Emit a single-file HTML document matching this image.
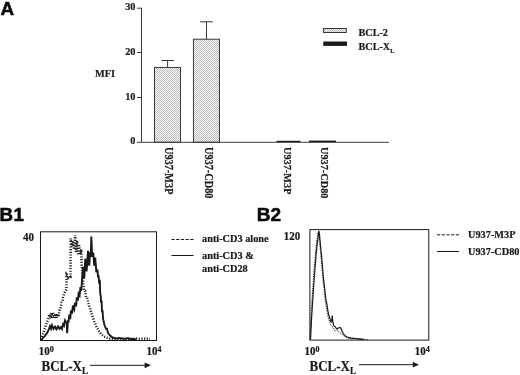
<!DOCTYPE html>
<html lang="en"><head><meta charset="utf-8"><title>Figure</title>
<style>html,body{margin:0;padding:0;background:#fff;}body{width:520px;height:375px;overflow:hidden;}svg{display:block;}</style>
</head><body>
<svg width="520" height="375" viewBox="0 0 520 375">
<defs>
<pattern id="dots" width="2" height="2" patternUnits="userSpaceOnUse">
<rect width="2" height="2" fill="#fafafa"/>
<rect x="0" y="0" width="1" height="1" fill="#bcbcbc"/>
<rect x="1" y="1" width="1" height="1" fill="#bcbcbc"/>
</pattern>
</defs>
<rect width="520" height="375" fill="#fff"/>
<g fill="#0a0a0a" font-family="Liberation Sans, sans-serif" font-weight="bold" font-size="18" stroke="#0a0a0a" stroke-width="0.5" stroke-linejoin="round">
<text transform="translate(0.4 15.2) scale(1.05 1)">A</text>
<text transform="translate(-0.55 220.8) scale(1.04 1)">B<tspan dx="0.5">1</tspan></text>
<text transform="translate(256.8 220.8) scale(1.06 1)">B2</text>
</g>
<!-- Panel A -->
<g stroke="#262626" stroke-width="0.9" fill="none">
<line x1="141.5" y1="7.8" x2="141.5" y2="142.1"/>
<line x1="137" y1="142.3" x2="389" y2="142.3"/>
<line x1="137" y1="8.2" x2="141.5" y2="8.2"/>
<line x1="137" y1="52.5" x2="141.5" y2="52.5"/>
<line x1="137" y1="97.5" x2="141.5" y2="97.5"/>
<rect x="154.5" y="67.4" width="26" height="74.7" fill="url(#dots)"/>
<rect x="193.4" y="39.2" width="26.1" height="102.9" fill="url(#dots)"/>
<line x1="167.6" y1="60.5" x2="167.6" y2="67.4"/>
<line x1="161.5" y1="60.5" x2="174" y2="60.5"/>
<line x1="206.5" y1="21.8" x2="206.5" y2="39.2"/>
<line x1="200" y1="21.8" x2="212.8" y2="21.8"/>
<rect x="276.5" y="140.8" width="24" height="1.3" fill="#1a1a1a" stroke="none"/>
<rect x="309" y="140.6" width="27" height="1.5" fill="#1a1a1a" stroke="none"/>
<rect x="323.5" y="28.5" width="22.8" height="4" fill="url(#dots)"/>
<rect x="323.3" y="41.5" width="23.7" height="4.4" fill="#1a1a1a" stroke="none"/>
</g>
<g fill="#1a1a1a" font-family="Liberation Serif, serif" font-weight="bold" font-size="10.3" stroke="#1a1a1a" stroke-width="0.2">
<text x="135.5" y="10.2" text-anchor="end">30</text>
<text x="135.5" y="54.9" text-anchor="end">20</text>
<text x="135.5" y="99.8" text-anchor="end">10</text>
<text x="135.5" y="144.4" text-anchor="end">0</text>
<text x="95" y="77">MFI</text>
<text x="358.5" y="36.2" font-size="10.2">BCL-2</text>
<text x="358.5" y="50" font-size="10.2">BCL-X<tspan font-size="6.2" dy="3">L</tspan></text>
</g>
<g fill="#1a1a1a" font-family="Liberation Serif, serif" font-weight="bold" font-size="10.3" stroke="#1a1a1a" stroke-width="0.2">
<text transform="translate(164.5 147) rotate(90) scale(1 1.12)">U937-M3P</text>
<text transform="translate(205.3 147) rotate(90) scale(1 1.12)">U937-CD80</text>
<text transform="translate(283.8 147) rotate(90) scale(1 1.1)">U937-M3P</text>
<text transform="translate(321.2 147) rotate(90) scale(1 1.1)">U937-CD80</text>
</g>
<!-- Panel B1 -->
<rect x="40.5" y="231.8" width="116" height="108.7" fill="none" stroke="#1a1a1a" stroke-width="1"/>
<path d="M41.0 339.5 L42.0 337.1 L43.0 333.9 L44.0 330.8 L45.0 328.2 L46.0 324.8 L47.0 322.1 L47.8 320.2 L48.5 317.7 L49.6 314.3 L50.5 318.3 L51.0 315.3 L51.5 312.7 L52.0 315.4 L52.5 317.7 L53.0 315.5 L53.5 312.9 L54.0 315.3 L54.5 317.8 L55.0 316.1 L55.5 313.8 L56.0 315.6 L56.5 317.7 L57.0 315.6 L57.5 313.8 L58.5 316.8 L59.0 313.9 L59.5 310.6 L60.5 309.2 L61.0 306.2 L61.6 302.5 L62.5 301.5 L62.9 298.8 L63.2 296.6 L64.0 294.2 L64.8 292.3 L65.5 291.3 L66.5 289.3 L66.5 286.4 L66.5 283.3 L66.6 280.3 L66.6 277.6 L66.6 274.5 L67.5 275.6 L68.5 277.4 L69.5 276.2 L70.5 276.5 L70.5 273.7 L70.5 270.5 L70.5 268.0 L70.5 264.9 L70.5 261.9 L70.5 259.4 L70.6 256.3 L70.6 253.2 L70.6 250.5 L70.6 247.7 L70.6 244.3 L70.6 242.2 L70.6 238.5 L71.1 242.1 L71.5 242.9 L72.0 246.6 L72.5 242.4 L73.0 240.8 L73.3 243.9 L73.7 246.4 L74.0 249.4 L74.3 245.1 L74.6 241.0 L74.9 238.3 L75.2 235.0 L75.4 237.4 L75.5 242.9 L75.7 245.5 L75.8 248.6 L76.0 251.8 L76.3 249.0 L76.7 245.5 L77.0 240.9 L77.2 243.9 L77.5 246.9 L77.8 250.6 L78.0 255.1 L78.2 251.7 L78.5 249.2 L78.8 246.7 L79.0 244.2 L79.2 246.7 L79.5 247.9 L79.8 251.2 L80.0 254.4 L80.7 252.6 L81.3 249.5 L81.4 252.3 L81.4 255.1 L81.5 258.3 L81.5 261.2 L81.6 263.5 L81.8 266.4 L82.0 268.1 L82.3 271.4 L82.5 274.5 L82.8 277.6 L83.0 280.4 L83.3 284.7 L83.7 287.5 L84.0 290.4 L85.0 290.7 L85.5 293.4 L86.0 297.2 L87.0 297.4 L87.5 299.0 L88.0 301.8 L88.8 304.9 L89.5 307.5 L90.3 309.2 L91.2 312.4 L92.1 315.2 L93.0 317.8 L94.4 322.1 L95.5 324.3 L96.5 327.1 L97.5 328.6 L98.4 329.8 L99.3 331.5 L100.1 332.5 L101.0 333.9 L102.0 334.9 L103.0 335.6 L104.0 336.6 L105.0 336.9 L106.0 337.2 L107.0 337.7 L108.0 337.9 L109.0 338.0 L110.0 338.4 L111.0 338.3 L112.0 338.6 L113.0 338.7 L114.0 338.8 L115.0 338.9 L116.0 338.8 L117.0 338.9 L118.0 338.9 L119.0 338.8 L120.0 339.0 L121.0 338.9 L122.0 338.9 L123.0 339.0 L124.0 338.9 L125.0 339.1 L126.0 339.0 L127.0 338.9 L128.0 339.0 L129.0 338.8 L130.0 338.9 L131.0 338.9 L132.0 338.7 L133.0 338.8 L134.0 338.7 L135.0 338.6 L136.0 338.7 L137.0 338.6 L138.0 338.7 L139.0 338.7 L140.0 338.6 L141.0 338.8 L142.0 338.7 L143.0 338.8 L144.0 338.9 L145.0 338.7 L146.0 338.9 L147.0 338.8 L148.0 338.8 L149.0 339.0 L150.0 338.9" fill="none" stroke="#1a1a1a" stroke-width="2.5" stroke-dasharray="1.1 1.6"/>
<path d="M41.0 339.5 L42.0 339.1 L43.0 337.9 L44.0 336.9 L45.0 335.8 L46.0 334.3 L47.0 333.1 L48.0 331.2 L49.0 328.9 L50.0 326.2 L51.0 328.7 L52.0 325.2 L52.8 327.3 L53.5 328.8 L54.2 327.5 L55.0 326.6 L55.8 328.2 L56.5 329.3 L57.2 327.9 L58.0 326.3 L58.8 327.3 L59.5 328.9 L60.2 328.2 L61.0 327.2 L62.0 328.9 L62.5 326.6 L63.0 324.3 L64.0 325.8 L64.5 322.7 L65.0 320.4 L65.8 321.8 L66.6 322.7 L66.8 325.4 L66.9 328.0 L67.0 330.7 L67.2 333.3 L67.4 329.9 L67.6 326.6 L67.7 323.5 L67.9 320.2 L68.6 322.4 L68.9 318.2 L69.3 314.6 L70.2 319.2 L70.5 316.3 L70.7 313.3 L71.0 310.3 L72.0 313.6 L72.3 310.6 L72.7 307.5 L73.0 305.5 L73.6 308.1 L74.2 309.5 L74.6 305.9 L75.0 302.5 L76.0 306.3 L76.3 303.9 L76.5 301.3 L76.8 297.3 L77.8 300.5 L78.1 298.9 L78.3 296.0 L78.6 293.7 L79.6 295.5 L79.9 292.9 L80.1 290.3 L80.4 287.2 L81.2 290.8 L81.5 287.4 L81.7 284.8 L82.0 280.4 L82.2 277.3 L82.5 273.9 L82.8 270.3 L83.0 266.9 L83.4 271.8 L83.8 275.5 L84.2 278.4 L84.4 275.9 L84.6 271.4 L84.8 267.9 L84.9 264.8 L85.1 262.1 L85.3 258.7 L85.6 262.1 L85.9 266.0 L86.3 269.1 L86.6 271.4 L86.8 268.4 L87.1 265.4 L87.3 260.5 L87.5 257.7 L87.8 254.6 L88.0 250.7 L88.3 254.5 L88.6 259.8 L88.9 262.9 L89.2 265.7 L89.5 262.8 L89.7 258.1 L90.0 255.0 L90.2 252.0 L90.5 254.5 L90.8 257.0 L90.9 253.8 L90.9 251.4 L91.0 248.6 L91.0 247.9 L91.1 244.6 L91.2 241.8 L91.2 239.7 L91.3 236.5 L91.4 239.4 L91.6 241.8 L91.7 245.1 L91.8 248.2 L91.9 250.6 L92.1 254.1 L92.2 257.0 L93.3 252.5 L93.5 255.0 L93.8 259.9 L94.0 263.0 L94.2 265.7 L94.8 262.9 L95.3 257.6 L95.5 261.3 L95.8 264.4 L96.0 267.0 L96.2 272.1 L97.3 269.3 L97.5 271.1 L97.8 274.1 L98.0 277.4 L98.6 275.4 L98.9 280.1 L99.2 283.6 L99.8 279.7 L99.9 282.5 L100.0 285.6 L100.0 288.7 L100.1 290.7 L100.2 293.4 L100.8 296.4 L100.9 299.1 L101.0 301.7 L101.6 301.6 L101.7 304.1 L101.8 306.8 L101.9 309.6 L102.0 312.4 L102.6 310.2 L102.7 312.7 L102.9 315.7 L103.0 318.6 L103.7 321.5 L104.4 324.8 L105.2 326.9 L106.0 328.8 L107.0 328.7 L107.5 331.0 L108.0 332.9 L109.0 334.2 L110.0 335.6 L110.9 336.1 L111.9 337.0 L112.8 337.8 L113.9 337.8 L114.9 338.3 L116.0 338.4 L117.0 338.5 L118.0 338.3 L119.0 338.0 L120.0 338.1 L121.0 338.1 L122.0 338.3 L123.0 338.7 L124.0 338.7 L125.0 338.7 L126.0 338.6 L127.0 338.3 L128.0 338.4 L129.0 338.4 L130.0 338.8 L131.0 339.0 L132.0 339.0 L133.0 339.2 L134.0 339.1 L135.0 339.2 L136.0 339.4" fill="none" stroke="#1a1a1a" stroke-width="1.9" stroke-linejoin="miter"/>
<g fill="#1a1a1a" font-family="Liberation Serif, serif" font-weight="bold" stroke="#1a1a1a" stroke-width="0.2">
<text transform="translate(22.9 241.2) scale(1 1.08)" font-size="11">40</text>
<text transform="translate(38.8 354.6) scale(1 1.08)" font-size="11">10<tspan font-size="8" dy="-2.6">0</tspan></text>
<text transform="translate(146.4 354.6) scale(1 1.08)" font-size="11">10<tspan font-size="8" dy="-2.6">4</tspan></text>
<text transform="translate(41.5 370.6) scale(1 1.08)" font-size="13">BCL-X<tspan font-size="9" dy="3.4">L</tspan></text>
<text transform="translate(202 241.6) scale(1 1.0)" font-size="10.3">anti-CD3 alone</text>
<text transform="translate(202 259.4) scale(1 1.0)" font-size="10.3">anti-CD3 &amp;</text>
<text transform="translate(202 271.6) scale(1 1.0)" font-size="10.3">anti-CD28</text>
</g>
<g stroke="#1a1a1a" stroke-width="1" fill="none">
<line x1="90" y1="365.3" x2="146" y2="365.3"/>
<path d="M144.6 362.4 L150.9 365.3 L144.6 368.2 Z" fill="#1a1a1a" stroke="none"/>
<line x1="171.5" y1="239.5" x2="193.5" y2="239.5" stroke-dasharray="3.2 1.5"/>
<line x1="171.5" y1="255.5" x2="193.5" y2="255.5"/>
</g>
<!-- Panel B2 -->
<rect x="309.9" y="229.6" width="118.9" height="110.5" fill="none" stroke="#1a1a1a" stroke-width="1"/>
<path d="M310.0 339.5 L310.1 337.7 L310.2 335.4 L310.3 333.1 L310.4 330.5 L310.5 327.9 L310.6 325.3 L310.7 322.7 L310.8 319.8 L310.9 317.4 L311.1 315.1 L311.2 312.7 L311.4 310.3 L311.5 307.8 L311.6 305.5 L311.8 303.3 L311.9 300.8 L312.1 299.2 L312.2 296.8 L312.4 294.6 L312.5 292.2 L312.7 289.7 L312.8 287.4 L313.0 284.8 L313.2 282.4 L313.3 279.6 L313.5 277.2 L313.7 274.6 L313.8 272.1 L314.0 269.6 L314.2 267.4 L314.4 265.0 L314.6 262.8 L314.8 261.3 L315.0 258.9 L315.2 256.6 L315.4 254.6 L315.6 252.2 L315.9 249.8 L316.1 246.3 L316.4 244.0 L316.6 241.7 L316.9 239.3 L317.3 237.6 L317.6 235.6 L318.3 231.9 L318.8 233.1 L319.2 235.6 L319.4 237.8 L319.6 240.4 L319.9 243.7 L320.1 246.3 L320.3 249.1 L320.5 251.4 L320.7 253.9 L320.9 255.9 L321.1 258.1 L321.3 259.7 L321.5 262.0 L321.7 264.4 L321.9 266.8 L322.1 269.0 L322.3 271.2 L322.5 274.4 L322.7 276.5 L322.9 278.9 L323.1 281.2 L323.3 283.4 L323.6 285.8 L323.8 287.4 L324.1 289.5 L324.3 291.8 L324.6 294.1 L324.8 296.2 L325.1 298.9 L325.3 301.2 L325.7 303.5 L326.1 305.8 L326.5 307.9 L327.0 310.9 L327.5 313.8 L328.2 317.2 L329.0 319.9 L329.8 321.8 L330.5 324.1 L331.2 325.4 L332.0 326.4 L332.8 327.1 L333.5 328.1 L334.2 329.4 L335.0 330.9 L336.0 330.6 L337.0 329.9 L338.0 331.1 L339.0 332.1 L340.0 332.7 L341.0 333.5 L342.0 334.4 L343.0 335.4 L343.8 336.1 L344.5 336.4 L345.2 336.9 L346.0 337.6 L346.8 337.8 L347.6 337.8 L348.4 338.2 L349.2 338.3 L350.0 338.5 L350.8 338.5 L351.6 338.7 L352.4 338.6 L353.2 338.7 L354.0 338.8 L354.8 338.9 L355.6 338.8 L356.4 339.0 L357.2 339.0 L358.0 338.9 L358.8 339.1 L359.7 339.1 L360.5 339.1 L361.3 339.1 L362.2 339.3 L363.0 339.2 L363.8 339.2 L364.7 339.4 L365.5 339.3 L366.3 339.4 L367.2 339.5 L368.0 339.4" fill="none" stroke="#1a1a1a" stroke-width="1" stroke-dasharray="1.2 1.2"/>
<path d="M310.5 339.5 L310.6 337.6 L310.8 334.9 L310.9 332.3 L311.0 329.7 L311.2 327.1 L311.3 324.4 L311.4 321.9 L311.5 319.6 L311.6 317.4 L311.8 315.3 L311.9 313.0 L312.0 311.3 L312.2 308.7 L312.3 306.3 L312.5 303.7 L312.7 301.2 L312.8 298.7 L313.0 296.3 L313.2 294.1 L313.3 291.1 L313.5 288.7 L313.6 286.5 L313.8 284.1 L314.0 282.0 L314.1 279.6 L314.3 277.2 L314.4 274.8 L314.6 273.4 L314.8 270.8 L315.0 268.5 L315.2 266.0 L315.4 263.6 L315.6 261.5 L315.8 258.8 L316.0 255.3 L316.2 252.9 L316.5 250.9 L316.7 248.3 L317.0 245.9 L317.2 243.7 L317.5 241.9 L317.9 239.5 L318.2 236.4 L318.5 232.7 L318.8 231.0 L319.2 232.7 L319.6 235.2 L319.8 238.8 L320.1 241.2 L320.3 243.6 L320.5 246.3 L320.8 248.5 L321.0 250.9 L321.2 252.7 L321.5 255.0 L321.7 257.9 L321.9 260.4 L322.2 262.9 L322.4 265.7 L322.6 268.7 L322.8 270.8 L323.0 273.2 L323.2 275.5 L323.4 277.4 L323.6 279.8 L323.9 281.7 L324.2 284.5 L324.5 287.1 L324.8 289.5 L325.1 292.6 L325.3 294.5 L325.6 296.8 L325.8 299.0 L326.2 300.9 L326.6 302.6 L327.0 304.9 L327.3 306.9 L327.7 309.5 L328.0 311.6 L328.7 314.5 L329.4 316.9 L330.0 318.9 L330.6 321.2 L331.6 321.8 L331.9 318.8 L332.2 315.8 L332.5 318.7 L332.9 322.2 L333.4 324.0 L333.8 326.0 L334.6 326.3 L335.5 327.1 L336.2 328.1 L337.0 328.9 L338.0 328.4 L339.0 327.6 L339.9 327.6 L340.8 328.1 L342.0 330.9 L342.7 332.3 L343.4 333.9 L344.1 334.7 L344.8 335.2 L345.5 335.9 L346.4 336.6 L347.3 337.0 L348.2 337.5 L349.0 337.8 L349.7 337.7 L350.5 337.9 L351.2 338.1 L352.0 338.3 L352.8 338.2 L353.5 338.3 L354.2 338.5 L355.0 338.4 L355.8 338.5 L356.5 338.7 L357.2 338.8 L358.0 338.7 L358.8 338.8 L359.5 339.1 L360.2 338.9 L361.0 339.1 L361.8 339.2 L362.5 339.3 L363.2 339.3 L364.0 339.5" fill="none" stroke="#1a1a1a" stroke-width="1.2" stroke-linejoin="round"/>
<g fill="#1a1a1a" font-family="Liberation Serif, serif" font-weight="bold" stroke="#1a1a1a" stroke-width="0.2">
<text transform="translate(283.8 239.7) scale(1 1.08)" font-size="11">120</text>
<text transform="translate(304.5 354.8) scale(1 1.08)" font-size="11">10<tspan font-size="8" dy="-2.6">0</tspan></text>
<text transform="translate(414.7 354.6) scale(1 1.08)" font-size="11">10<tspan font-size="8" dy="-2.6">4</tspan></text>
<text transform="translate(309.5 370.6) scale(1 1.08)" font-size="13">BCL-X<tspan font-size="9" dy="3.4">L</tspan></text>
<text transform="translate(468 237.6) scale(1 1.0)" font-size="10.3">U937-M3P</text>
<text transform="translate(468 255) scale(1 1.0)" font-size="10.3">U937-CD80</text>
</g>
<g stroke="#1a1a1a" stroke-width="1" fill="none">
<line x1="359" y1="364.7" x2="414" y2="364.7"/>
<path d="M412.8 361.8 L418.9 364.7 L412.8 367.6 Z" fill="#1a1a1a" stroke="none"/>
<line x1="437" y1="234.8" x2="459" y2="234.8" stroke-dasharray="3.2 1.5"/>
<line x1="437" y1="251.5" x2="459" y2="251.5"/>
</g>
</svg>
</body></html>
